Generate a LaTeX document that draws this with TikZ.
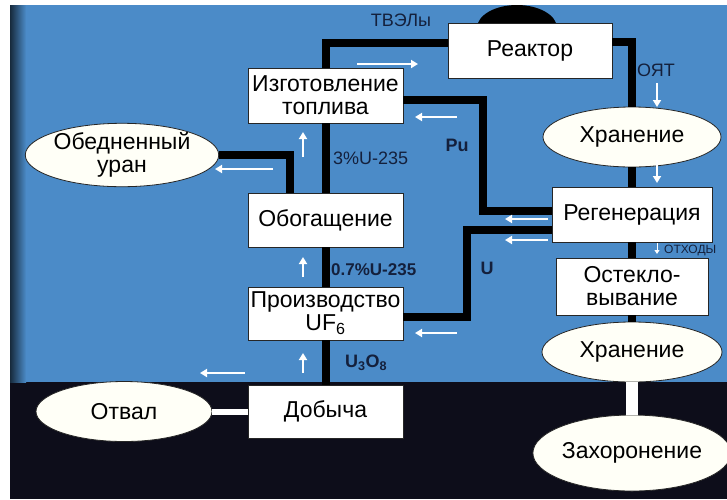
\documentclass[tikz,border=0pt]{standalone}
\usepackage{fontspec}
\setmainfont{Liberation Sans}
\usepackage{xcolor}
\usetikzlibrary{shapes,arrows.meta,positioning}

\definecolor{skyblue}{HTML}{4B8BC8}
\definecolor{nightblue}{HTML}{0D0D1A}
\definecolor{inkblue}{HTML}{14203C}

\begin{document}
\begin{tikzpicture}[x=1pt,y=-1pt,
        every node/.style={font=\fontsize{23}{23}\selectfont},
        box/.style={draw=black!85,line width=0.8pt,fill=white,align=center,inner sep=0pt,
            minimum width=155pt,minimum height=54pt},
        oval/.style={ellipse,draw=black!85,line width=0.8pt,fill=yellow!3,align=center,inner sep=0pt},
        pipe/.style={line width=8pt,black},
        bond/.style={line width=6pt,white},
        flow/.style={line width=2pt,white,-{Triangle[length=7pt,width=8pt]}},
        lbl/.style={text=inkblue,inner sep=0pt,font=\fontsize{18}{18}\selectfont},
        boldlbl/.style={lbl,font=\bfseries\fontsize{18}{18}\selectfont}]

    % background
    \useasboundingbox (0,0) rectangle (727,499);
    \fill[white] (0,0) rectangle (727,499);
    \fill[skyblue] (10,5) rectangle (727,382);
    \fill[nightblue] (10,382) rectangle (727,499);
    \shade[left color=black!70!skyblue,right color=skyblue] (10,5) rectangle (26,382);
    \begin{scope}
        \clip (10,5) rectangle (727,100);
        \fill[black] (517,28) ellipse [x radius=40,y radius=23];
    \end{scope}

    \node[box,minimum width=164pt,minimum height=55pt] (reactor) at (530,50.5) {Реактор};
    \node[box,minimum height=55pt] (fuel) at (325.5,95.5) {Изготовление\\топлива};
    \node[box] (enrich) at (325.5,220) {Обогащение};
    \node[box,minimum height=53pt] (uf6) at (325.5,313.5) {Производство\\UF\textsubscript{6}};
    \node[box,minimum height=53pt] (mining) at (325.5,411.5) {Добыча};
    \node[oval,minimum width=184pt,minimum height=60pt] (depleted) at (122,155) {Обедненный\\уран};
    \node[oval,minimum width=176pt,minimum height=60pt] (dump) at (124,411.5) {Отвал};
    \node[oval,minimum width=178pt,minimum height=60pt] (store1) at (632,137) {Хранение};
    \node[box,minimum width=160pt,minimum height=55pt] (regen) at (632,214.5) {Регенерация};
    \node[box,minimum width=152pt,minimum height=57pt] (glass) at (632,286.5) {Остекло-\\вывание};
    \node[oval,minimum width=180pt,minimum height=60pt] (store2) at (632,352) {Хранение};
    \node[oval,minimum width=166pt,minimum height=76pt] (burial) at (632,453) {Захоронение};

    \draw[pipe] (fuel.north) |- ([yshift=8pt]reactor.west);
    \draw[pipe] ([yshift=9pt]reactor.east) -| (store1.north);
    \draw[pipe] (store1.south) -- (regen.north);
    \draw[pipe] (regen.south) -- (glass.north);
    \draw[pipe] (glass.south) -- (store2.north);
    \draw[bond,line width=12pt] (store2.south) -- (burial.north);
    \draw[pipe] (fuel.south) -- (enrich.north);
    \draw[pipe] (enrich.south) -- (uf6.north);
    \draw[pipe] (uf6.south) -- (mining.north);
    \draw[pipe] (depleted.east) -| ([xshift=-36pt]enrich.north);
    \draw[pipe] ([yshift=-4pt]fuel.east) -- ++(80,0) |- ([yshift=4pt]regen.west);
    \draw[pipe] ([yshift=-3pt]uf6.east) -- ++(64,0) |- ([yshift=-15pt]regen.west);
    \draw[bond] (dump.east) -- (mining.west);

    % flow arrows
    \foreach \xa/\ya/\xb/\yb in {357/64/418/64, 657/83/657/107, 657/160/657/183,
            457/117/415/117, 303/157/303/132, 273/169/215/169, 548/219/505/219,
            548/240/505/240, 303/277/303/257, 457/333/415/333, 303/373/303/353,
            245/373/200/373}
        \draw[flow] (\xa,\ya) -- (\xb,\yb);
    \draw[flow,line width=1pt,-{Triangle[length=4pt,width=5pt]}] (657,243) -- (657,254);

    \node[lbl] (tvel) at (401,20) {ТВЭЛы};
    \node[lbl,anchor=west] (snf) at (637,70) {ОЯТ};
    \node[boldlbl] (pu) at (457,145) {Pu};
    \node[lbl,anchor=west] (rich) at (333,158) {3\%U-235};
    \node[boldlbl,font=\bfseries\fontsize{17}{17}\selectfont,anchor=west] (lean) at (331,270) {0.7\%U-235};
    \node[boldlbl] (uran) at (487,268) {U};
    \node[boldlbl,anchor=west] (oxide) at (345,363) {U\textsubscript{3}O\textsubscript{8}};
    \node[lbl,anchor=west,font=\fontsize{12}{12}\selectfont] (waste) at (664,250) {ОТХОДЫ};
\end{tikzpicture}
\end{document}
